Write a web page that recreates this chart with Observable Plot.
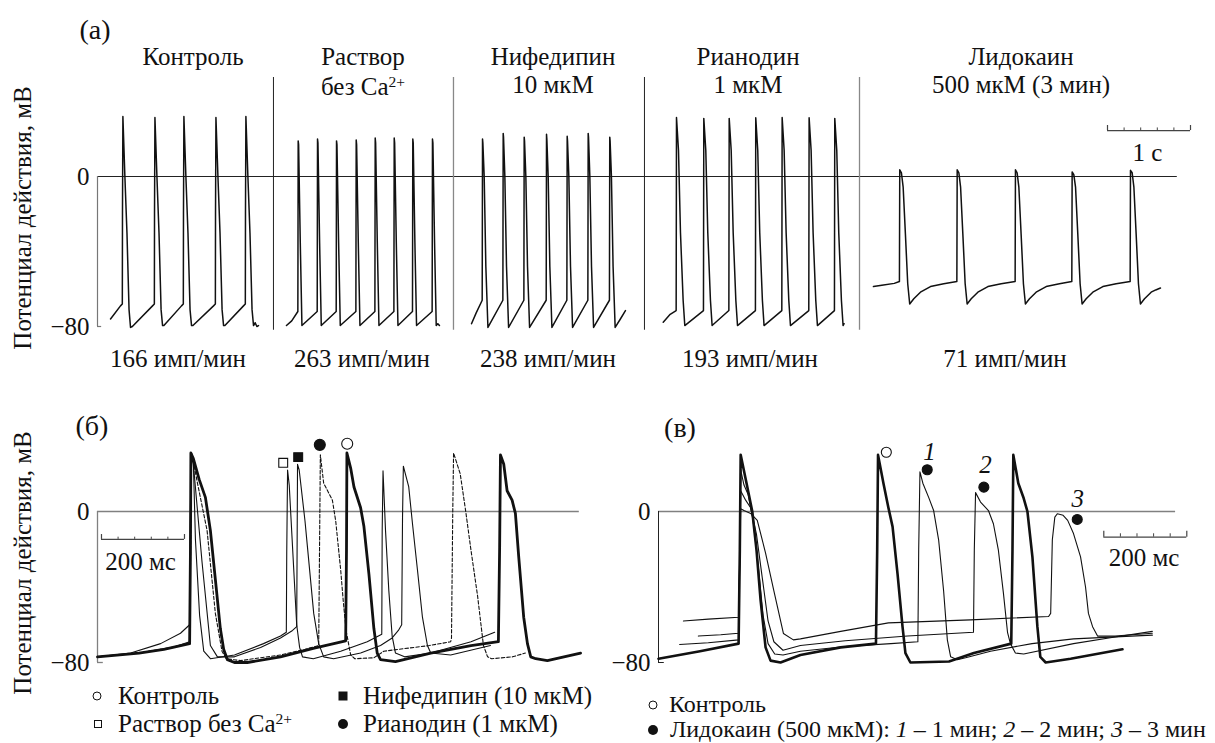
<!DOCTYPE html>
<html><head><meta charset="utf-8">
<script src="https://cdn.jsdelivr.net/npm/d3@7"></script>
<script src="https://cdn.jsdelivr.net/npm/@observablehq/plot@0.6"></script>
<style>
body{margin:0;background:#fff;}
#fig{position:relative;width:1215px;height:743px;background:#fff;font-family:"Liberation Serif","Times New Roman",Tinos,"DejaVu Serif",serif;color:#111;overflow:hidden}
.p{position:absolute}
.c{position:absolute;transform:translate(-50%,-50%);white-space:nowrap;line-height:1;font-size:25px}
.l{position:absolute;transform:translate(0,-50%);white-space:nowrap;line-height:1;font-size:25px}
.r{position:absolute;transform:translate(-50%,-50%) rotate(-90deg);white-space:nowrap;line-height:1;font-size:25px}
.sup{font-size:0.62em;position:relative;top:-0.5em}
.sym{position:absolute;transform:translate(-50%,-50%);box-sizing:border-box}
</style></head><body>
<div id="fig">
  <div class="p" id="pa" style="left:0;top:0"></div>
  <div class="p" id="pb" style="left:0;top:380px"></div>
  <div class="p" id="pc" style="left:600px;top:380px"></div>

  <div class="c" style="left:95px;top:30px;font-size:28px">(а)</div>
  <div class="c" style="left:193px;top:56px">Контроль</div>
  <div class="c" style="left:363px;top:56px">Раствор</div>
  <div class="c" style="left:363px;top:86px">без Ca<span class="sup">2+</span></div>
  <div class="c" style="left:553px;top:56px">Нифедипин</div>
  <div class="c" style="left:553px;top:84px">10 мкМ</div>
  <div class="c" style="left:748px;top:56px">Рианодин</div>
  <div class="c" style="left:748px;top:84px">1 мкМ</div>
  <div class="c" style="left:1021px;top:56px">Лидокаин</div>
  <div class="c" style="left:1021px;top:84px">500 мкМ (3 мин)</div>
  <div class="c" style="left:178px;top:358px">166 имп/мин</div>
  <div class="c" style="left:362px;top:358px">263 имп/мин</div>
  <div class="c" style="left:548px;top:358px">238 имп/мин</div>
  <div class="c" style="left:750px;top:358px">193 имп/мин</div>
  <div class="c" style="left:1005px;top:358px">71 имп/мин</div>
  <div class="r" style="left:22px;top:218px">Потенциал действия, мВ</div>
  <div class="r" style="left:22px;top:563px">Потенциал действия, мВ</div>

  <div class="c" style="left:92px;top:426px;font-size:28px">(б)</div>
  <div class="c" style="left:680px;top:428px;font-size:28px">(в)</div>

  <div class="sym" style="left:97px;top:696px;width:9px;height:9px;border:1px solid #111;border-radius:50%"></div>
  <div class="l" style="left:118px;top:695px">Контроль</div>
  <div class="sym" style="left:98px;top:724px;width:8px;height:8px;border:1px solid #111"></div>
  <div class="l" style="left:118px;top:723px">Раствор без Ca<span class="sup">2+</span></div>
  <div class="sym" style="left:343px;top:696px;width:9px;height:9px;background:#111"></div>
  <div class="l" style="left:363px;top:695px">Нифедипин (10 мкМ)</div>
  <div class="sym" style="left:343px;top:724px;width:10px;height:10px;background:#111;border-radius:50%"></div>
  <div class="l" style="left:363px;top:723px">Рианодин (1 мкМ)</div>

  <div class="sym" style="left:653px;top:705px;width:9px;height:9px;border:1px solid #111;border-radius:50%"></div>
  <div class="l" style="left:669px;top:704px;font-size:24px">Контроль</div>
  <div class="sym" style="left:653px;top:730px;width:10px;height:10px;background:#111;border-radius:50%"></div>
  <div class="l" style="left:670px;top:729px;font-size:24px">Лидокаин (500 мкМ): <i>1</i> – 1 мин; <i>2</i> – 2 мин; <i>3</i> – 3 мин</div>
</div>
<script>
// ---------- Panel (а): time in s, potential in mV ----------
const aControl = [[0.157,-76],[0.277,-69],[0.299,-68],[0.301,-20],[0.306,32],[0.330,0],[0.355,-30],[0.380,-71],[0.398,-80.5],[0.42,-80],
[0.663,-69],[0.685,-68],[0.687,-20],[0.692,31.5],[0.716,0],[0.741,-30],[0.766,-71],[0.784,-79.5],[0.80,-79.5],
[1.012,-69],[1.034,-68],[1.036,-20],[1.041,32],[1.065,0],[1.090,-30],[1.115,-71],[1.133,-79.5],[1.15,-79.5],
[1.398,-69],[1.420,-68],[1.422,-20],[1.427,31.5],[1.451,0],[1.476,-30],[1.501,-71],[1.519,-79.5],[1.535,-79.5],
[1.759,-69],[1.781,-68],[1.783,-20],[1.788,32],[1.812,0],[1.837,-30],[1.862,-71],[1.880,-79.5],[1.90,-78],[1.92,-80],[1.94,-79.5]];

const aCaFree = [[2.277,-79.5],[2.340,-77],[2.414,-72],[2.418,19],[2.423,17],[2.443,-35],[2.463,-79.5],
[2.647,-72],[2.651,20],[2.656,18],[2.676,-35],[2.696,-79.5],
[2.876,-72],[2.880,19],[2.885,17],[2.905,-35],[2.925,-79.5],
[3.113,-72],[3.117,19.5],[3.122,17],[3.142,-35],[3.162,-79.5],
[3.342,-72],[3.346,20.5],[3.351,18],[3.371,-35],[3.391,-79.5],
[3.571,-72],[3.575,20.5],[3.580,18],[3.600,-35],[3.620,-79.5],
[3.795,-72],[3.799,20],[3.804,18],[3.824,-35],[3.844,-79.5],
[4.032,-72],[4.036,20],[4.041,18],[4.061,-35],[4.081,-79.5],[4.10,-78.5],[4.12,-79.5]];

const aNifedipine = [[4.506,-78.5],[4.560,-73],[4.635,-66],[4.639,20],[4.643,18],[4.659,0],[4.679,-48],[4.704,-80.5],
[4.884,-66],[4.888,23],[4.892,21],[4.908,0],[4.928,-48],[4.953,-80.5],
[5.137,-66],[5.141,21],[5.145,19],[5.161,0],[5.181,-48],[5.206,-80.5],
[5.406,-66],[5.410,22.5],[5.414,20],[5.430,0],[5.450,-48],[5.475,-80.5],
[5.655,-66],[5.659,21.5],[5.663,19],[5.679,0],[5.699,-48],[5.724,-80.5],
[5.908,-66],[5.912,23],[5.916,21],[5.932,0],[5.952,-48],[5.977,-80.5],
[6.168,-66],[6.172,21],[6.176,19],[6.192,0],[6.212,-48],[6.237,-80.5],[6.30,-76],[6.361,-71.5]];

const aRyanodine = [[6.816,-77.7],[6.900,-73.5],[6.972,-71.5],[6.976,31.5],[7.000,14],[7.024,-30],[7.056,-66],[7.076,-79.5],
[7.301,-71.5],[7.305,31],[7.329,14],[7.353,-30],[7.385,-66],[7.405,-79.5],
[7.607,-71.5],[7.611,31],[7.635,14],[7.659,-30],[7.691,-66],[7.711,-79.5],
[7.927,-71.5],[7.931,31.3],[7.955,14],[7.979,-30],[8.011,-66],[8.031,-79.5],
[8.245,-71.5],[8.249,31.5],[8.273,14],[8.297,-30],[8.329,-66],[8.349,-79.5],
[8.570,-71.5],[8.574,31.3],[8.598,14],[8.622,-30],[8.654,-66],[8.674,-79.5],
[8.879,-71.5],[8.883,31],[8.907,14],[8.931,-30],[8.963,-66],[8.983,-79.5],[8.995,-78.5]];

const aLidocaine = [[9.349,-58.7],[9.450,-58],[9.600,-57],[9.662,-56],[9.666,3.6],[9.686,2],[9.707,-5.7],[9.734,-30.6],[9.762,-57.2],[9.786,-68],[9.835,-65.2],[9.915,-61.7],[10.036,-58.7],[10.196,-57.2],
[10.354,-56],[10.358,3.6],[10.378,2],[10.399,-5.7],[10.426,-30.6],[10.454,-57.2],[10.478,-68],[10.527,-65.2],[10.607,-61.7],[10.728,-58.7],[10.888,-57.2],
[11.056,-56],[11.060,3.6],[11.080,2],[11.101,-5.7],[11.128,-30.6],[11.156,-57.2],[11.180,-68],[11.229,-65.2],[11.309,-61.7],[11.430,-58.7],[11.590,-57.2],
[11.739,-56],[11.743,2.4],[11.763,1],[11.784,-5.7],[11.811,-30.6],[11.839,-57.2],[11.863,-68],[11.912,-65.2],[11.992,-61.7],[12.113,-58.7],[12.273,-57.2],
[12.442,-56],[12.446,3.3],[12.466,2],[12.487,-5.7],[12.514,-30.6],[12.542,-57.2],[12.566,-68],[12.615,-65.2],[12.695,-61.7],[12.750,-60.5],[12.807,-59.5]];

const aSeparatorsDark = [2.120, 6.590];
const aSeparatorsGray = [4.289, 9.181];

// ---------- Panel (б): time in ms, potential in mV ----------
const bControl = [[0,-77],[100,-75],[160,-73],[222,-70],[224,-20],[225,31],[231,28],[245,17],[260,7.5],[272,-10],[284,-36],[296,-62],[304,-73],[313,-78.5],[330,-80],[361,-80],[441,-77],[520,-72.5],[598,-68.5],[600,-20],[601,31],[610,23],[618,13],[634,2],[642,-8],[654,-33],[666,-62],[674,-75],[682,-78.5],[718,-79.5],[803,-75],[900,-71],[966,-69],[969,-19],[971,30],[979,25],[987,11],[999,6],[1007,-1],[1015,-24],[1027,-56],[1036,-70],[1044,-77],[1056,-78],[1084,-79],[1164,-75]];
const bCaFree = [[0,-77],[100,-75],[180,-72],[222,-69],[225,28],[231,26],[236,-15],[246,-55],[256,-74],[272,-78],[330,-76],[400,-70],[441,-66],[455,-64],[456,-22],[458,22],[462,14],[480,-60],[487,-72],[494,-77],[520,-78],[586,-74],[650,-69],[685,-65],[686,-10],[688,21.5],[694,-10],[702,-42],[710,-66],[718,-75],[740,-77],[803,-75],[900,-69],[957,-64]];
const bNifedipine = [[0,-77],[80,-75],[152,-70],[200,-64.5],[222,-60],[225,30],[231,25],[252,-27],[272,-71],[289,-77],[330,-77],[393,-72],[441,-67],[470,-63],[480,-61],[482,25],[486,22],[500,-5],[506,-19],[521,-54],[533,-70],[545,-77],[569,-78],[634,-75],[682,-71],[710,-67],[725,-63],[733,-60],[735,-3],[737,24],[750,13],[759,-6.5],[771,-31],[783,-56],[795,-71],[803,-75],[851,-76],[947,-71]];
const bRyanodine = [[0,-77],[100,-75],[180,-72],[222,-70],[227,31],[240,16],[264,-10],[284,-54],[300,-74],[310,-78],[345,-79],[441,-76],[500,-73],[533,-71],[535,-20],[537,30],[545,15],[566,6],[574,-5],[586,-31],[592,-47],[599,-63],[610,-76],[620,-78],[666,-77.5],[690,-74],[800,-71],[851,-69],[853,-67],[856,-1],[858,31],[874,20],[887,0.5],[899,-19],[916,-45],[930,-71],[940,-77],[950,-78],[1000,-77],[1031,-75]];
const bSquareMarkers = [{t: 447.5, v: 25.8, fill: "white"}, {t: 483.6, v: 28.8, fill: "#111"}];
const bCircleMarkers = [{t: 535.7, v: 35.3, fill: "#111"}, {t: 601.7, v: 35.9, fill: "white"}];

// ---------- Panel (в): time in ms, potential in mV ----------
const cControl = [[0,-78],[100,-74],[193,-70],[196,-20],[198,30],[214,13],[226,0],[236,-20],[246,-47],[258,-72],[270,-79],[294,-80],[342,-76],[439,-72],[524,-70],[527,-20],[529,30],[542,15],[554,2],[564,-8],[576,-33],[588,-61],[595,-75],[607,-80],[700,-79.5],[760,-75],[850,-70],[853,-20],[855,30],[867,15],[880,7],[889,0],[901,-24],[913,-61],[920,-77],[933,-80],[993,-78],[1118,-73]];
const cLido1 = [[51,-70.5],[120,-69.5],[193,-68],[196,-20],[198,22],[206,14],[216,9],[228,-5],[240,-28],[252,-55],[264,-70],[280,-75.5],[300,-76],[342,-74],[450,-71.5],[560,-70],[625,-69],[627,-20],[630,21],[637,15],[651,7.5],[663,0.5],[675,-15],[687,-42],[696,-68],[704,-77],[720,-78.5],[740,-77.5],[800,-74],[900,-70],[1000,-67.5],[1190,-65.5]];
const cLido2 = [[96,-66],[150,-65.3],[193,-64.5],[196,-20],[198,11],[210,6],[222,2],[236,-12],[250,-35],[264,-58],[278,-69],[300,-73.5],[342,-71],[450,-68.5],[600,-66],[759,-64],[761,-20],[764,10],[776,5],[795,0.5],[807,-6.5],[819,-20.5],[831,-43],[841,-64],[848,-70],[860,-75],[880,-75.5],[1000,-70],[1100,-66.5],[1190,-63.5]];
const cLido3 = [[60,-58],[120,-57],[193,-56],[196,-20],[198,1.5],[206,0.5],[222,-1],[238,-4.7],[258,-22],[278,-42],[301,-64.6],[325,-68],[342,-67.5],[439,-63.5],[554,-59],[752,-57.4],[940,-55.6],[945,-54],[949,-15],[955,-3],[961,-1.2],[975,-2],[986,-4.7],[1000,-11.7],[1017,-24],[1029,-40],[1036,-54],[1046,-61],[1058,-66],[1100,-66],[1190,-64.5]];
const cMarkers = [
  {t: 549, v: 31.4, fill: "white"},
  {t: 647.5, v: 22.1, fill: "#111"},
  {t: 784, v: 12.9, fill: "#111"},
  {t: 1009, v: -4.2, fill: "#111"}
];
const cNumbers = [
  {t: 653, v: 31.4, label: "1"},
  {t: 788, v: 24.4, label: "2"},
  {t: 1010, v: 6.7, label: "3"}
];

const yTicks = [-80, 0];
const serif = '"Liberation Serif","Times New Roman",Tinos,"DejaVu Serif",serif';
const XY = {x: d => d[0], y: d => d[1]};

function scaleBar(x0, len, step, y0, yEnd, yMid, label, lx, ly) {
  const inner = d3.range(x0 + step, x0 + len - step / 2, step);
  return [
    Plot.ruleY([y0], {x1: x0, x2: x0 + len, stroke: "#444", strokeWidth: 1.2}),
    Plot.ruleX([x0, x0 + len], {y1: y0, y2: yEnd, stroke: "#444", strokeWidth: 1.2}),
    Plot.ruleX(inner, {y1: y0, y2: yMid, stroke: "#444", strokeWidth: 1}),
    Plot.text([label], {x: lx, y: ly, text: d => d, fontSize: 25, fontFamily: serif, fill: "#111"})
  ];
}

const plotA = Plot.plot({
  width: 1215, height: 380, marginLeft: 97, marginRight: 25, marginTop: 176, marginBottom: 54,
  x: {domain: [0, 13.169], axis: null},
  y: {domain: [-80, 0]},
  style: {fontFamily: serif, fontSize: "25px", background: "transparent", color: "#111"},
  marks: [
    Plot.ruleY([0], {x1: 0, x2: 13.01, stroke: "#222", strokeWidth: 1}),
    Plot.ruleX([0], {y1: -80, y2: 0, stroke: "#777", strokeWidth: 1.2}),
    Plot.ruleY([-80], {x1: 0, x2: 0.05, stroke: "#777", strokeWidth: 1.2}),
    Plot.ruleX(aSeparatorsDark, {y1: -82, y2: 52.8, stroke: "#222", strokeWidth: 1}),
    Plot.ruleX(aSeparatorsGray, {y1: -82, y2: 52.8, stroke: "#888", strokeWidth: 1.3}),
    ...[aControl, aCaFree, aNifedipine, aRyanodine, aLidocaine].map(d => Plot.line(d, {...XY, stroke: "#111", strokeWidth: 1.5})),
    ...scaleBar(12.169, 1, 0.2, 24.5, 27.2, 25.9, "1 с", 12.65, 12.3),
    Plot.axisY({ticks: yTicks, tickSize: 0, tickPadding: 8, label: null, fontSize: 25, fontFamily: serif})
  ]
});
document.getElementById("pa").append(plotA);

const plotB = Plot.plot({
  width: 600, height: 320, marginLeft: 97, marginRight: 5, marginTop: 131, marginBottom: 38,
  x: {domain: [0, 1200], axis: null},
  y: {domain: [-80, 0]},
  style: {fontFamily: serif, fontSize: "25px", background: "transparent", color: "#111"},
  marks: [
    Plot.ruleY([0], {x1: 0, x2: 1161, stroke: "#808080", strokeWidth: 1.3}),
    Plot.ruleX([0], {y1: -80, y2: 0, stroke: "#808080", strokeWidth: 1.3}),
    Plot.ruleY([-80], {x1: 0, x2: 14, stroke: "#808080", strokeWidth: 1.3}),
    Plot.line(bCaFree, {...XY, stroke: "#111", strokeWidth: 1.1}),
    Plot.line(bNifedipine, {...XY, stroke: "#111", strokeWidth: 1.1}),
    Plot.line(bRyanodine, {...XY, stroke: "#111", strokeWidth: 1.1, strokeDasharray: "3.5,2"}),
    Plot.line(bControl, {...XY, stroke: "#111", strokeWidth: 2.8}),
    Plot.dot(bSquareMarkers, {x: "t", y: "v", symbol: "square", r: 5, fill: "fill", stroke: "#111", strokeWidth: 1.1}),
    Plot.dot(bCircleMarkers, {x: "t", y: "v", r: 5.5, fill: "fill", stroke: "#111", strokeWidth: 1.1}),
    ...scaleBar(9.6, 200, 40, -14.8, -12.2, -13.6, "200 мс", 103.6, -27),
    Plot.axisY({ticks: yTicks, tickSize: 0, tickPadding: 8, label: null, fontSize: 25, fontFamily: serif})
  ],
  color: {type: "identity"}
});
document.getElementById("pb").append(plotB);

const plotC = Plot.plot({
  width: 615, height: 320, marginLeft: 58, marginRight: 17.5, marginTop: 131, marginBottom: 38,
  x: {domain: [0, 1300], axis: null},
  y: {domain: [-80, 0]},
  style: {fontFamily: serif, fontSize: "25px", background: "transparent", color: "#111"},
  marks: [
    Plot.ruleY([0], {x1: 0, x2: 1246, stroke: "#808080", strokeWidth: 1.3}),
    Plot.ruleX([0], {y1: -80, y2: 0, stroke: "#222", strokeWidth: 1}),
    Plot.ruleY([-80], {x1: 0, x2: 14, stroke: "#222", strokeWidth: 1}),
    ...[cLido1, cLido2, cLido3].map(d => Plot.line(d, {...XY, stroke: "#111", strokeWidth: 1.1})),
    Plot.line(cControl, {...XY, stroke: "#111", strokeWidth: 2.6}),
    Plot.dot(cMarkers, {x: "t", y: "v", r: 5, fill: "fill", stroke: "#111", strokeWidth: 1.1}),
    Plot.text(cNumbers, {x: "t", y: "v", text: "label", fontStyle: "italic", fontSize: 25, fontFamily: serif, fill: "#111"}),
    ...scaleBar(1073, 200, 40, -13.6, -10.4, -11.8, "200 мс", 1170, -24.4),
    Plot.axisY({ticks: yTicks, tickSize: 0, tickPadding: 8, label: null, fontSize: 25, fontFamily: serif})
  ],
  color: {type: "identity"}
});
document.getElementById("pc").append(plotC);
</script>
</body></html>
